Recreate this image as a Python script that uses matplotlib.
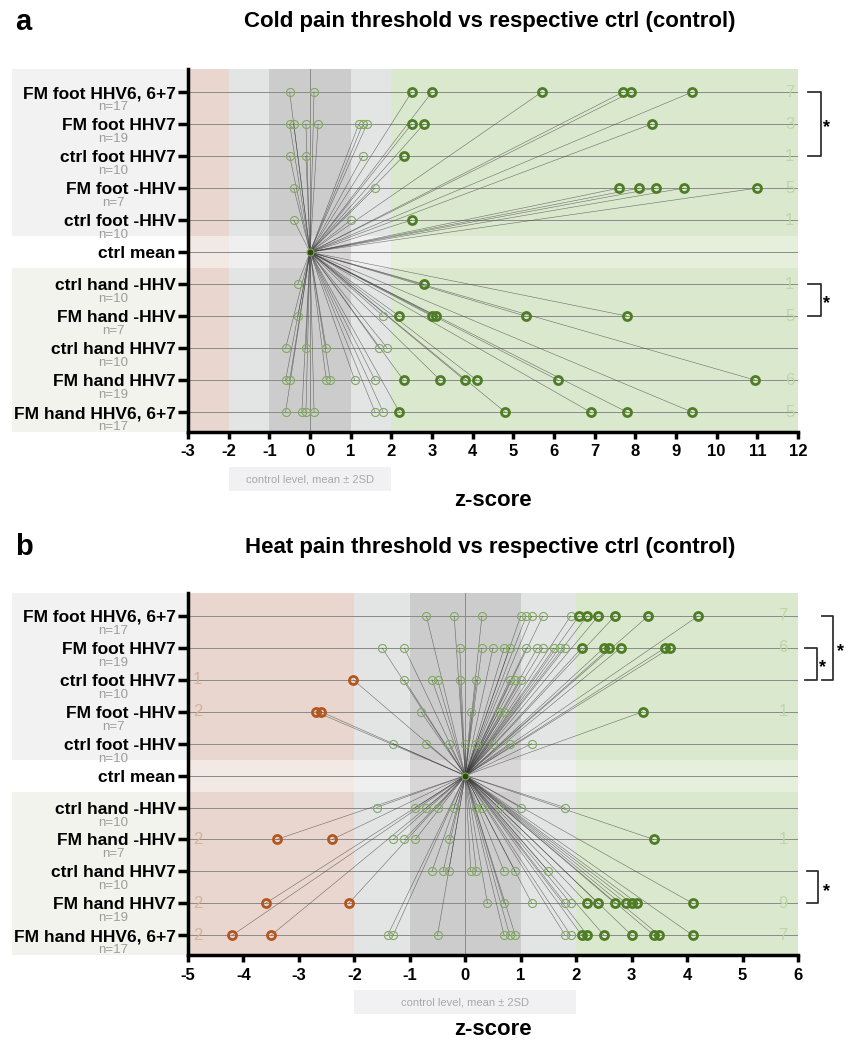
import numpy as np
import matplotlib
matplotlib.use('Agg')
import matplotlib.pyplot as plt
import matplotlib.transforms as mtransforms
from matplotlib.patches import Rectangle

plt.rcParams['font.family'] = ['Liberation Sans', 'DejaVu Sans']

# ---- data ----
rows = ['FM foot HHV6, 6+7', 'FM foot HHV7', 'ctrl foot HHV7', 'FM foot -HHV',
        'ctrl foot -HHV', 'ctrl mean', 'ctrl hand -HHV', 'FM hand -HHV',
        'ctrl hand HHV7', 'FM hand HHV7', 'FM hand HHV6, 6+7']
n_labels = ['n=17', 'n=19', 'n=10', 'n=7', 'n=10', '', 'n=10', 'n=7', 'n=10', 'n=19', 'n=17']

cold_z = [
    [-0.5, 0.1, 2.5, 3.0, 5.7, 7.7, 7.9, 9.4],
    [-0.5, -0.4, -0.1, 0.2, 1.2, 1.3, 1.4, 2.5, 2.8, 8.4],
    [-0.5, -0.1, 1.3, 2.3],
    [-0.4, 1.6, 7.6, 8.1, 8.5, 9.2, 11.0],
    [-0.4, 1.0, 2.5],
    [0.0],
    [-0.3, 2.8],
    [-0.3, 1.8, 2.2, 3.0, 3.1, 5.3, 7.8],
    [-0.6, -0.1, 0.4, 1.7, 1.9],
    [-0.6, -0.5, 0.4, 0.5, 1.1, 1.6, 2.3, 3.2, 3.8, 4.1, 6.1, 10.95],
    [-0.6, -0.2, -0.1, 0.1, 1.6, 1.8, 2.2, 4.8, 6.9, 7.8, 9.4],
]
cold_hi = ['7', '3', '1', '5', '1', '', '1', '5', '', '6', '5']
cold_lo = ['', '', '', '', '', '', '', '', '', '', '']

heat_z = [
    [-0.7, -0.2, 0.3, 1.0, 1.1, 1.2, 1.4, 1.9, 2.05, 2.2, 2.4, 2.7, 3.3, 4.2],
    [-1.5, -1.1, -0.1, 0.3, 0.5, 0.7, 0.8, 1.1, 1.3, 1.4, 1.6, 1.7, 1.8,
     2.1, 2.5, 2.6, 2.8, 3.6, 3.7],
    [-2.02, -1.1, -0.6, -0.5, -0.1, 0.2, 0.8, 0.9, 1.0],
    [-2.7, -2.6, -0.8, 0.1, 0.6, 0.7, 3.2],
    [-1.3, -0.7, -0.3, 0.0, 0.2, 0.5, 0.8, 1.2],
    [0.0],
    [-1.6, -0.9, -0.7, -0.5, -0.2, 0.2, 0.3, 0.6, 1.0, 1.8],
    [-3.4, -2.4, -1.3, -1.1, -0.9, -0.3, 3.4],
    [-0.6, -0.4, -0.3, 0.1, 0.2, 0.7, 0.9, 1.5],
    [-3.6, -2.1, 0.4, 0.7, 1.2, 1.8, 1.9, 2.2, 2.4, 2.7, 2.9, 3.0, 3.1, 4.1],
    [-4.2, -3.5, -1.4, -1.3, -0.5, 0.7, 0.8, 0.9, 1.8, 1.9, 2.1, 2.2, 2.5,
     3.0, 3.4, 3.5, 4.1],
]
heat_hi = ['7', '6', '', '1', '', '', '', '1', '', '9', '7']
heat_lo = ['', '', '1', '2', '', '', '', '2', '', '2', '2']

# brackets: (row_top, row_bottom, x0, x1, star_x) in axes fraction
cold_brackets = [(0, 2, 1.016, 1.038, 1.047), (6, 7, 1.016, 1.038, 1.047)]
heat_brackets = [(0, 2, 1.039, 1.057, 1.069), (1, 2, 1.011, 1.031, 1.040),
                 (8, 9, 1.015, 1.033, 1.046)]

# ---- styles ----
C_LIGHT = '#80aa5c'
C_DARK = '#4e7e24'
C_RED = '#b4561f'
MEAN_ROW = 5
YLIM = (10.62, -0.72)


def draw_panel(ax, zvals, xmin, xmax, hi, lo, brackets, xhi, xlo, zlab_y):
    ax.set_xlim(xmin, xmax)
    ax.set_ylim(*YLIM)

    # shaded bands; lighter in the ctrl mean strip
    groups = [(-0.72, 4.5, False), (4.5, 5.5, True), (5.5, 10.62, False)]
    bands = [(xmin, -2, '#e9d7cf', '#f2e8e4'), (-2, -1, '#e3e4e4', '#efefef'),
             (-1, 1, '#cdcccc', '#d8d6d6'), (1, 2, '#e3e4e4', '#efefef'),
             (2, xmax, '#dae8ce', '#e6efdc')]
    for y0, y1, light in groups:
        for x0, x1, c, cl in bands:
            ax.add_patch(Rectangle((x0, y0), x1 - x0, y1 - y0,
                                   color=cl if light else c, lw=0, zorder=0))

    # label background boxes left of the axis
    tr = mtransforms.blended_transform_factory(ax.transAxes, ax.transData)
    for y0, y1, c in [(-0.72, 4.5, '#f2f2f2'), (5.5, 10.62, '#f3f3ee')]:
        ax.add_patch(Rectangle((-0.289, y0), 0.289, y1 - y0, transform=tr,
                               color=c, lw=0, clip_on=False, zorder=0))

    for i in range(len(rows)):
        ax.axhline(i, color='#8a8a8a', lw=0.7, zorder=1)
    ax.axvline(0, color='#8a8a8a', lw=0.7, zorder=1)

    # lines from ctrl mean to every point
    for i, vals in enumerate(zvals):
        if i == MEAN_ROW:
            continue
        for v in vals:
            ax.plot([0, v], [MEAN_ROW, i], color='#3a3a3a', lw=0.4, alpha=0.7, zorder=2)

    for i, vals in enumerate(zvals):
        if i == MEAN_ROW:
            ax.plot(vals, [i] * len(vals), 'o', ms=5, mfc='#2c4a12', mec=C_LIGHT,
                    mew=0.8, zorder=4)
            continue
        for v in vals:
            if v > 2:
                ax.plot(v, i, 'o', ms=5.8, mfc='none', mec=C_DARK, mew=2.0, zorder=4)
            elif v < -2:
                ax.plot(v, i, 'o', ms=5.8, mfc='none', mec=C_RED, mew=2.0, zorder=4)
            else:
                ax.plot(v, i, 'o', ms=5.8, mfc='none', mec=C_LIGHT, mew=0.8, zorder=4)

    for i in range(len(rows)):
        if hi[i]:
            ax.text(xhi, i, hi[i], color='#bcd6a8', fontsize=12, ha='center',
                    va='center', zorder=3)
        if lo[i]:
            ax.text(xlo, i, lo[i], color='#d6b1a2', fontsize=12, ha='center',
                    va='center', zorder=3)
        if n_labels[i]:
            ax.text(-0.123, i + 0.47, n_labels[i], transform=tr, color='#9c9c9c',
                    fontsize=9.5, ha='center', va='center', clip_on=False)

    for r0, r1, x0, x1, sx in brackets:
        ax.plot([x0, x1, x1, x0], [r0, r0, r1, r1], transform=tr, color='#333333',
                lw=1.3, clip_on=False)
        ax.text(sx, (r0 + r1) / 2 + 0.12, '*', transform=tr, fontsize=13,
                fontweight='bold', ha='center', va='center', clip_on=False)

    ax.set_yticks(range(len(rows)))
    ax.set_yticklabels(rows, fontsize=12.5, fontweight='bold')
    ax.set_xticks(range(int(xmin), int(xmax) + 1))
    ax.set_xticklabels([str(t) for t in range(int(xmin), int(xmax) + 1)],
                       fontsize=12, fontweight='bold')
    ax.tick_params(axis='y', length=7, width=2.5, pad=2)
    ax.tick_params(axis='x', length=5, width=2.5, pad=4)
    for s in ['top', 'right']:
        ax.spines[s].set_visible(False)
    for s in ['left', 'bottom']:
        ax.spines[s].set_linewidth(2.5)
        ax.spines[s].set_zorder(5)

    # control level box under the axis
    trx = mtransforms.blended_transform_factory(ax.transData, ax.transAxes)
    ax.add_patch(Rectangle((-2, -0.163), 4, 0.067, transform=trx, color='#f1f1f4',
                           lw=0, clip_on=False))
    ax.text(0, -0.13, 'control level, mean \u00b1 2SD', transform=trx, fontsize=8,
            color='#a8a8a8', ha='center', va='center')
    ax.text(0.5, zlab_y, 'z-score', transform=ax.transAxes, fontsize=16,
            fontweight='bold', ha='center', va='center')


fig = plt.figure(figsize=(8.46, 10.43), dpi=100)
ax1 = fig.add_axes([188 / 846, 1 - 432 / 1043, 610 / 846, 363 / 1043])
ax2 = fig.add_axes([188 / 846, 1 - 955 / 1043, 610 / 846, 362 / 1043])

draw_panel(ax1, cold_z, -3, 12, cold_hi, cold_lo, cold_brackets, 11.8, -2.8, -0.19)
draw_panel(ax2, heat_z, -5, 6, heat_hi, heat_lo, heat_brackets, 5.73, -4.83, -0.205)

fig.text(15 / 846, 1 - 22 / 1043, 'a', fontsize=21, fontweight='bold', va='center')
fig.text(490 / 846, 1 - 22 / 1043, 'Cold pain threshold vs respective ctrl (control)',
         fontsize=16, fontweight='bold', ha='center', va='center')
fig.text(15 / 846, 1 - 547 / 1043, 'b', fontsize=21, fontweight='bold', va='center')
fig.text(490 / 846, 1 - 548 / 1043, 'Heat pain threshold vs respective ctrl (control)',
         fontsize=16, fontweight='bold', ha='center', va='center')

fig.savefig('out.png', dpi=100)
